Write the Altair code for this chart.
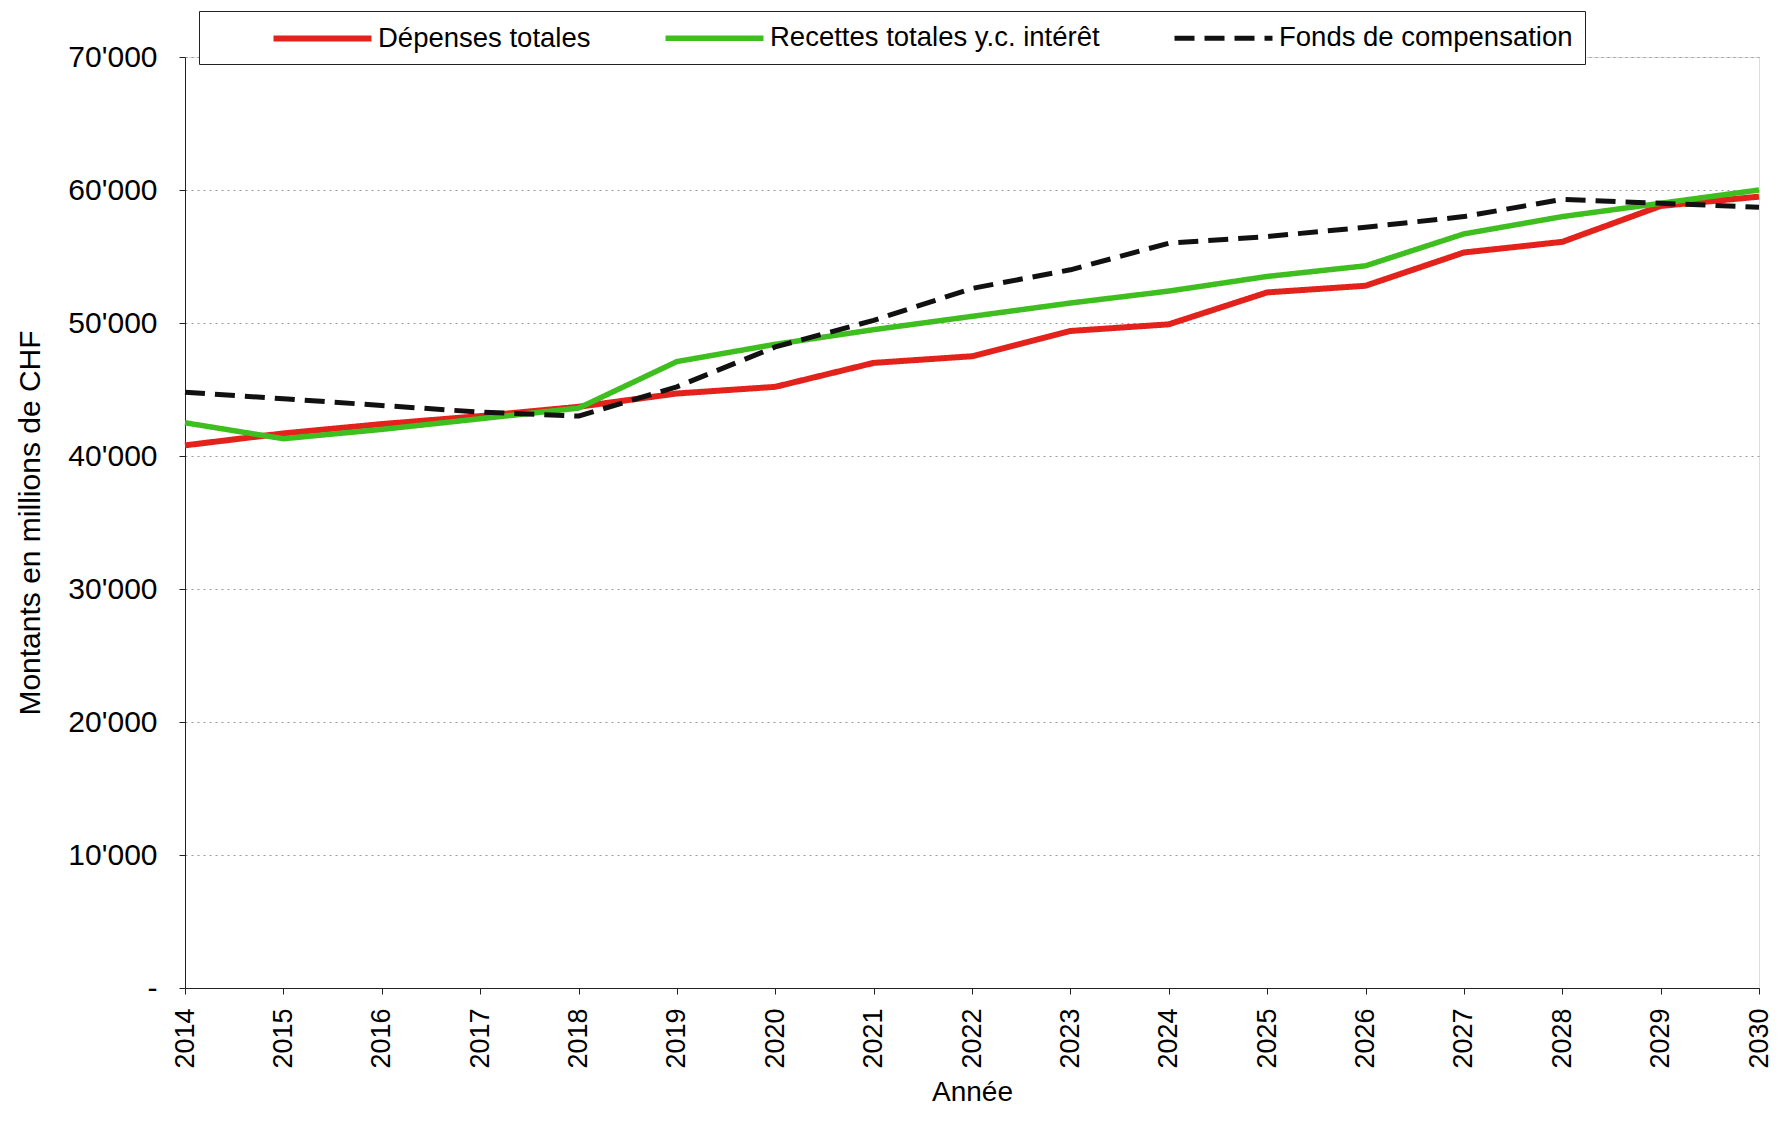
import altair as alt
import pandas as pd

years = list(range(2014, 2031))
series_names = ["Dépenses totales", "Recettes totales y.c. intérêt", "Fonds de compensation"]

depenses = [40800, 41700, 42400, 43000, 43700, 44700, 45200, 47000, 47500,
            49400, 49900, 52300, 52800, 55300, 56100, 58800, 59500]
recettes = [42500, 41300, 42000, 42800, 43600, 47100, 48400, 49500, 50500,
            51500, 52400, 53500, 54300, 56700, 58000, 59000, 60000]
fonds = [44800, 44300, 43800, 43300, 43000, 45200, 48200, 50200, 52600,
         54000, 56000, 56500, 57200, 58000, 59300, 59000, 58700]

y_ticks = [0, 10000, 20000, 30000, 40000, 50000, 60000, 70000]

rows = []
for name, vals in zip(series_names, [depenses, recettes, fonds]):
    for yr, v in zip(years, vals):
        rows.append({"Année": yr, "Montant": v, "Série": name})
df = pd.DataFrame(rows)

FONT = "Liberation Sans"

chart = alt.Chart(df).mark_line(strokeCap="butt", strokeJoin="round").encode(
    x=alt.X("Année:Q",
            scale=alt.Scale(domain=[2014, 2030], nice=False, zero=False),
            axis=alt.Axis(values=years, format="d", labelAngle=270,
                          labelAlign="right", labelBaseline="middle",
                          labelFontSize=27, labelFont=FONT, labelColor="black",
                          labelPadding=14, tickSize=6, tickColor="#222",
                          domainColor="#222", grid=False,
                          title="Année", titleFontSize=28, titleFont=FONT,
                          titleFontWeight="normal", titleColor="black",
                          titlePadding=10)),
    y=alt.Y("Montant:Q",
            scale=alt.Scale(domain=[0, 70000], nice=False),
            axis=alt.Axis(values=y_ticks,
                          labelExpr="datum.value == 0 ? '-' : replace(format(datum.value, ','), ',', \"'\")",
                          labelFontSize=30, labelFont=FONT, labelColor="black",
                          labelPadding=22, tickSize=6, tickColor="#222",
                          domainColor="#222",
                          grid=True, gridDash=[2, 4], gridColor="#9a9a9a",
                          gridWidth=1,
                          title="Montants en millions de CHF", titleFontSize=30,
                          titleFont=FONT, titleFontWeight="normal",
                          titleColor="black", titlePadding=22)),
    color=alt.Color("Série:N",
                    scale=alt.Scale(domain=series_names,
                                    range=["#e3221b", "#3fbf1f", "#111111"]),
                    sort=series_names,
                    legend=alt.Legend(title=None, orient="none",
                                      legendX=14, legendY=-46,
                                      direction="horizontal", columns=3,
                                      symbolType="M-4,0H4", symbolSize=600,
                                      symbolOffset=96,
                                      labelFontSize=27.5, labelFont=FONT,
                                      labelColor="black", labelOffset=40,
                                      labelLimit=800,
                                      columnPadding=12, padding=12,
                                      strokeColor="#222", fillColor="white")),
    strokeDash=alt.StrokeDash("Série:N",
                              scale=alt.Scale(domain=series_names,
                                              range=[[1, 0], [1, 0], [20, 10]]),
                              sort=series_names, legend=None),
    strokeWidth=alt.StrokeWidth("Série:N",
                                scale=alt.Scale(domain=series_names,
                                                range=[6, 5, 7]),
                                sort=series_names, legend=None),
).properties(
    width=1574, height=931,
    autosize=alt.AutoSizeParams(type="none"),
    padding={"left": 177, "top": 49, "right": 20, "bottom": 128},
).configure_view(
    stroke="#333", strokeWidth=1
).configure(background="white")

chart.save("out.html", embed_options={"renderer": "svg", "actions": False})
